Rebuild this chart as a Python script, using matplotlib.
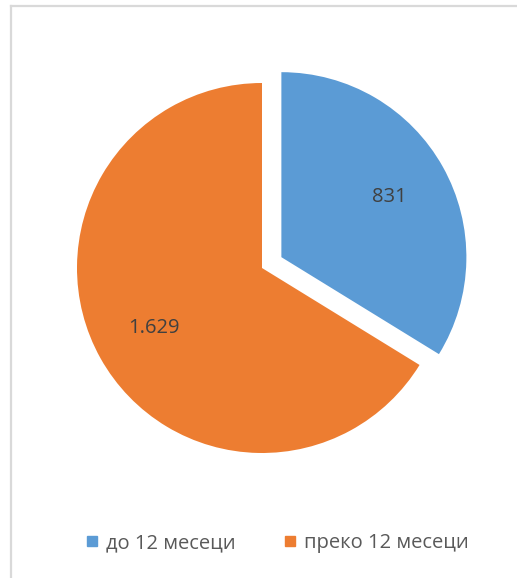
import matplotlib
matplotlib.use("Agg")
import matplotlib.pyplot as plt
from matplotlib.lines import Line2D

categories = ["до 12 месеци", "преко 12 месеци"]
values = [831, 1629]
colors = ["#5B9BD5", "#ED7D31"]

W, H = 517, 578
fig = plt.figure(figsize=(W / 100, H / 100), dpi=100)
ax = fig.add_axes([0, 0, 1, 1])
ax.axis("off")

# light gray chart-area border (only top and left edges fall inside the crop)
border = dict(color="#D9D9D9", linewidth=1.6, transform=fig.transFigure)
fig.lines.append(Line2D([11 / W, 11 / W], [0, 1 - 6 / H], **border))
fig.lines.append(Line2D([11 / W, 1], [1 - 6 / H, 1 - 6 / H], **border))

total = sum(values)


def fmt(pct):
    v = int(round(pct * total / 100))
    return f"{v:,}".replace(",", ".")


wedges, texts, autotexts = ax.pie(
    values, colors=colors, startangle=90, counterclock=False,
    center=(262, H - 268), radius=185, explode=[0.12 * 185, 0],
    autopct=fmt, pctdistance=0.67,
    wedgeprops=dict(linewidth=0),
    textprops=dict(fontsize=14.5, color="#404040", family="Open Sans"),
)
ax.set_xlim(0, W)
ax.set_ylim(0, H)
ax.set_aspect("equal")

handles = [Line2D([], [], marker="s", linestyle="none", markersize=7,
                  markerfacecolor=c, markeredgecolor=c) for c in colors]
leg = fig.legend(handles, categories, loc="center", bbox_to_anchor=(276 / W, 1 - 543 / H),
                 ncol=2, frameon=False, handletextpad=0.3, columnspacing=2.3,
                 handlelength=0.8, prop=dict(family="Open Sans", size=14.5))
for t in leg.get_texts():
    t.set_color("#595959")

fig.savefig("out.png", dpi=100)
